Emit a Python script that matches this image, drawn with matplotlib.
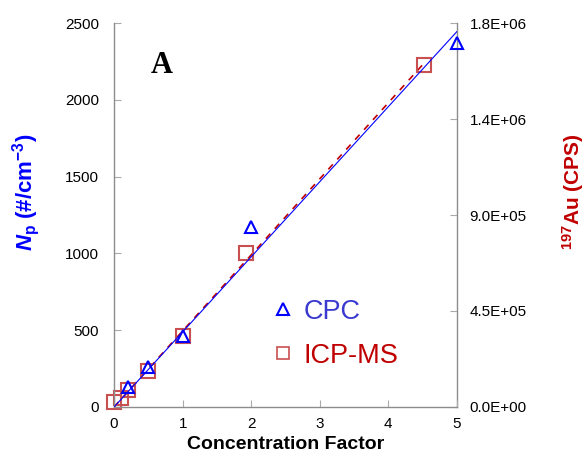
import numpy as np
import matplotlib
matplotlib.use("Agg")
import matplotlib.pyplot as plt
from matplotlib.lines import Line2D

plt.rcParams["font.family"] = ["Liberation Sans", "DejaVu Sans"]
plt.rcParams["mathtext.fontset"] = "custom"
plt.rcParams["mathtext.rm"] = "Liberation Sans:bold"
plt.rcParams["mathtext.it"] = "Liberation Sans:italic:bold"
plt.rcParams["mathtext.bf"] = "Liberation Sans:bold"

# CPC particle number concentration (left axis, #/cm^3)
cpc_x = [0.2, 0.5, 1.0, 2.0, 5.0]
cpc_y = [130, 260, 460, 1170, 2370]

# ICP-MS 197Au counts (right axis, CPS)
icp_x = [0.0, 0.1, 0.2, 0.5, 1.0, 1.93, 4.52]
icp_y = [21600, 43200, 79200, 169000, 333000, 721000, 1603000]

x_ticks = [0, 1, 2, 3, 4, 5]
left_ticks = [0, 500, 1000, 1500, 2000, 2500]
right_ticks = [0, 4.5e5, 9.0e5, 1.35e6, 1.8e6]

BLUE = "#0000ff"
RED = "#c00000"
SQ = "#c85050"
SPINE = "#8c8c8c"

fig = plt.figure(figsize=(5.88, 4.67), dpi=100)
ax = fig.add_axes([0.194, 0.1285, 0.583, 0.8222])
ax2 = ax.twinx()

# linear fits forced through origin
cx, cy = np.array(cpc_x), np.array(cpc_y)
k_cpc = (cx * cy).sum() / (cx * cx).sum()
ix, iy = np.array(icp_x), np.array(icp_y)
k_icp = (ix * iy).sum() / (ix * ix).sum()

ax.plot([0, 5], [0, 5 * k_cpc], color=BLUE, lw=0.8, zorder=3)
ax.plot(cpc_x, cpc_y, ls="none", marker="^", ms=9, mfc="none", mec=BLUE,
        mew=1.5, clip_on=False, zorder=4)

ax2.plot([0, max(icp_x)], [0, max(icp_x) * k_icp], color=RED, lw=1.2,
         ls=(0, (4, 4)), zorder=2)
ax2.plot(icp_x, icp_y, ls="none", marker="s", ms=10, mfc="none", mec=SQ,
         mew=1.5, clip_on=False, zorder=3)
ax2.set_zorder(ax.get_zorder() - 1)
ax.patch.set_visible(False)

ax.set_xlim(0, 5)
ax.set_ylim(0, 2500)
ax2.set_ylim(0, 1.8e6)
ax.set_xticks(x_ticks)
ax.set_yticks(left_ticks)
ax2.set_yticks(right_ticks)
ax2.set_yticklabels(["%.1E" % v for v in right_ticks])

for a in (ax, ax2):
    a.spines["top"].set_visible(False)
    for s in ("left", "right", "bottom"):
        a.spines[s].set_color(SPINE)
        a.spines[s].set_linewidth(1.0)
ax.spines["right"].set_visible(False)
ax2.spines["left"].set_visible(False)
ax2.spines["bottom"].set_visible(False)

ax.tick_params(axis="x", direction="in", length=5, color="#aaaaaa",
               labelsize=11, pad=7)
ax.tick_params(axis="y", direction="in", length=5, color="#aaaaaa",
               labelsize=11, pad=11)
ax2.tick_params(axis="y", direction="in", length=5, color="#aaaaaa",
                labelsize=11, pad=9)

ax.set_xlabel("Concentration Factor", fontsize=14, fontweight="bold")
ax.set_ylabel(r"$\it{N}_\mathrm{p}$ (#/cm$^\mathrm{-3}$)", fontsize=16,
              fontweight="bold", color=BLUE)
ax.yaxis.set_label_coords(-0.21, 0.56)
ax2.set_ylabel(r"$^\mathrm{197}$Au (CPS)", fontsize=15, fontweight="bold",
               color=RED)
ax2.yaxis.set_label_coords(1.302, 0.56)

ax.text(0.14, 0.89, "A", transform=ax.transAxes, fontsize=22,
        fontweight="bold", family="Liberation Serif", ha="center",
        va="center")

handles = [
    Line2D([], [], ls="none", marker="^", ms=8, mfc="none", mec=BLUE, mew=1.5),
    Line2D([], [], ls="none", marker="s", ms=8, mfc="none", mec=SQ, mew=1.2),
]
leg = ax.legend(handles, ["CPC", "ICP-MS"], loc="upper left",
                bbox_to_anchor=(0.39, 0.345), frameon=False, fontsize=19.5,
                handlelength=0.8, handletextpad=0.35, labelspacing=0.65)
for t, c in zip(leg.get_texts(), ["#3a3ad0", RED]):
    t.set_color(c)

fig.savefig("out.png", dpi=100)
